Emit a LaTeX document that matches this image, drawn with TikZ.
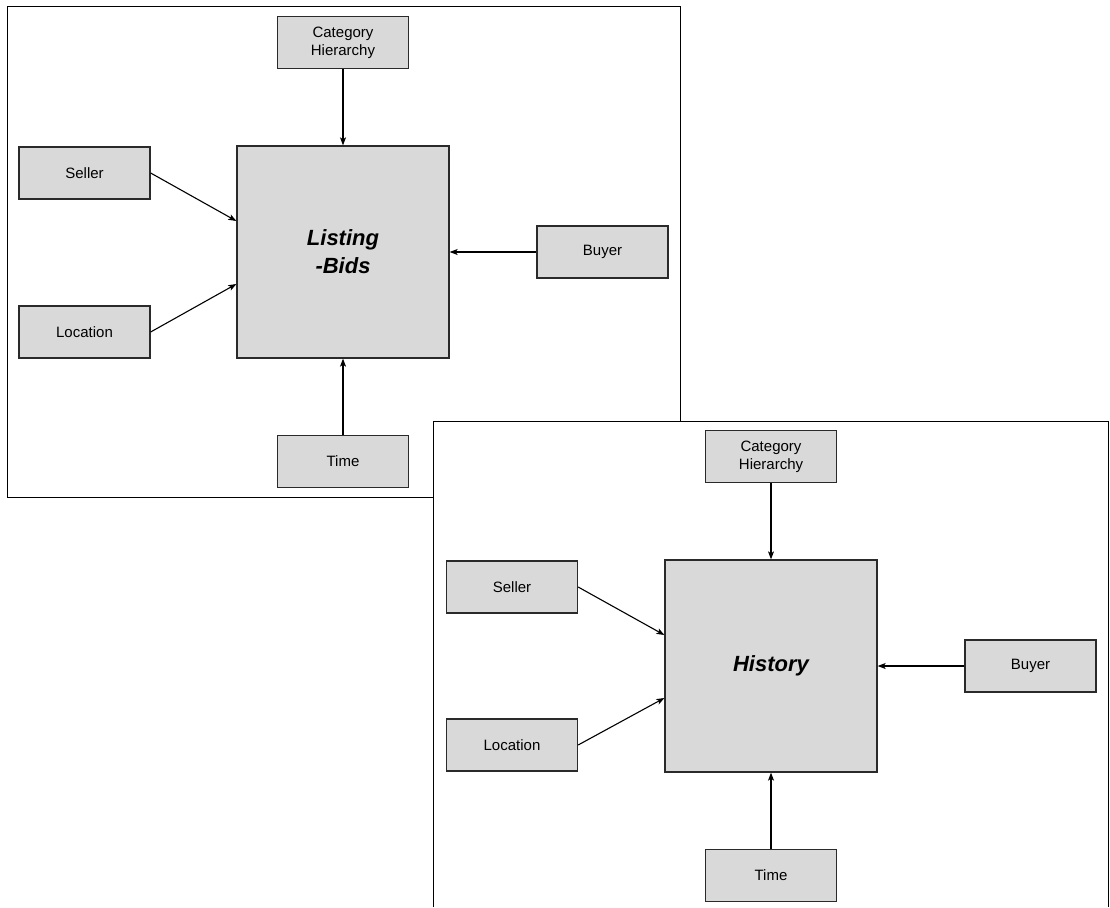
\documentclass[tikz,border=0pt]{standalone}
\usepackage{fontspec}
\setmainfont{Liberation Sans}
\usetikzlibrary{arrows.meta,calc}
\definecolor{boxfill}{HTML}{D9D9D9}
\definecolor{edge}{HTML}{2A2A2A}
\tikzset{
  dimbox/.style={draw=edge,line width=1.3pt,fill=boxfill,minimum width=131pt,minimum height=52pt,inner sep=0pt,align=center,font=\fontsize{15pt}{18pt}\selectfont},
  factbox/.style={draw=edge,line width=1.3pt,fill=boxfill,minimum width=212pt,minimum height=212pt,inner sep=0pt,align=center,font=\fontsize{22pt}{28pt}\selectfont\bfseries\itshape},
  link/.style={draw=black,line width=1.1pt,-{Stealth[length=8pt,width=6pt,inset=2pt]}},
  frame/.style={draw=black,line width=1pt}
}
\begin{document}
\begin{tikzpicture}[x=1pt,y=-1pt]
\useasboundingbox (0,0) rectangle (1110,907);
% frame 1
\draw[frame] (7,7) rectangle (680,497);
\node[dimbox] (cat1) at (343,42.5) {Category\\Hierarchy};
\node[factbox] (main1) at (343,252) {Listing\\-Bids};
\node[dimbox] (sel1) at (84.5,173) {Seller};
\node[dimbox] (loc1) at (84.5,332) {Location};
\node[dimbox] (buy1) at (602.5,252) {Buyer};
\node[dimbox] (tim1) at (343,461.5) {Time};
\coordinate (m1a) at ($(main1.west)+(0,-31)$);
\coordinate (m1b) at ($(main1.west)+(0,32)$);
\draw[link] (cat1) -- (main1);
\draw[link] (tim1) -- (main1);
\draw[link] (buy1) -- (main1);
\draw[link] (sel1.east) -- (m1a);
\draw[link] (loc1.east) -- (m1b);
% frame 2 (overlapping, open at the bottom)
\fill[white] (433,421) rectangle (1108,907);
\draw[frame] (433,907) -- (433,421) -- (1108,421) -- (1108,907);
\node[dimbox] (cat2) at (771,456.5) {Category\\Hierarchy};
\node[factbox] (main2) at (771,666) {History};
\node[dimbox] (sel2) at (512,587) {Seller};
\node[dimbox] (loc2) at (512,745) {Location};
\node[dimbox] (buy2) at (1030.5,666) {Buyer};
\node[dimbox] (tim2) at (771,875.5) {Time};
\coordinate (m2a) at ($(main2.west)+(0,-31)$);
\coordinate (m2b) at ($(main2.west)+(0,32)$);
\draw[link] (cat2) -- (main2);
\draw[link] (tim2) -- (main2);
\draw[link] (buy2) -- (main2);
\draw[link] (sel2.east) -- (m2a);
\draw[link] (loc2.east) -- (m2b);
\end{tikzpicture}
\end{document}
